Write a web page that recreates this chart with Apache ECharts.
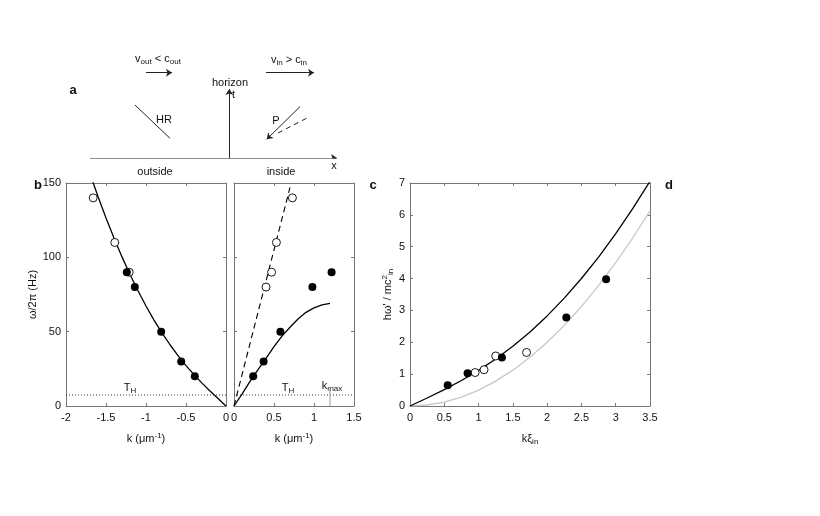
<!DOCTYPE html>
<html>
<head>
<meta charset="utf-8">
<script src="https://cdn.jsdelivr.net/npm/echarts@6/dist/echarts.min.js"></script>
<style>
  html, body { margin: 0; padding: 0; background: #fff; }
  #chart { width: 820px; height: 516px; }
</style>
</head>
<body>
<div id="chart"></div>
<script>
// panel b, outside (k < 0)
var outCurveK = [0, -0.1, -0.2, -0.3, -0.4, -0.5, -0.6, -0.7, -0.8, -0.9, -1.0, -1.1, -1.2, -1.3, -1.4, -1.5, -1.6, -1.7];
var outCurveW = [0, 5.0, 10.1, 15.4, 21.1, 27.2, 33.9, 41.2, 49.2, 57.8, 67.3, 77.5, 88.5, 100.3, 113.0, 126.5, 140.9, 156.2];
var outOpenK = [-1.66, -1.39, -1.21];
var outOpenW = [140, 110, 90];
var outFilledK = [-1.24, -1.14, -0.81, -0.56, -0.39];
var outFilledW = [90, 80, 50, 30, 20];

// panel b, inside (k > 0)
var inCurveK = [0, 0.1, 0.2, 0.3, 0.4, 0.5, 0.6, 0.7, 0.8, 0.9, 1.0, 1.1, 1.2];
var inCurveW = [0, 8, 16.5, 24.5, 32, 40, 47, 53, 58.5, 63, 66, 68, 69];
var inDashK = [0, 0.7];
var inDashW = [0, 147];
var inOpenK = [0.40, 0.47, 0.53, 0.73];
var inOpenW = [80, 90, 110, 140];
var inFilledK = [0.24, 0.37, 0.58, 0.98, 1.22];
var inFilledW = [20, 30, 50, 80, 90];
var tH = 7.4;
var kMax = 1.2;
var kMaxTop = 12;

// panel c
var cX = [0, 0.25, 0.5, 0.75, 1, 1.25, 1.5, 1.75, 2, 2.25, 2.5, 2.75, 3, 3.25, 3.5];
var cBlack = [0, 0.252, 0.515, 0.801, 1.118, 1.474, 1.875, 2.325, 2.828, 3.387, 4.002, 4.676, 5.408, 6.201, 7.055];
var cGray = [0, 0.031, 0.125, 0.281, 0.5, 0.781, 1.125, 1.531, 2, 2.531, 3.125, 3.781, 4.5, 5.281, 6.125];
var cFilledX = [0.55, 0.84, 1.34, 2.28, 2.86];
var cFilledY = [0.65, 1.03, 1.52, 2.78, 3.98];
var cOpenX = [0.95, 1.08, 1.25, 1.70];
var cOpenY = [1.05, 1.14, 1.57, 1.68];

// panel a sketch, segments [x1, y1, x2, y2] in sketch units
var arrowSegs = [
  [24, 0, 271, 0],        // x axis
  [163.3, 0, 163.3, 69],  // t axis
  [80, 85.3, 106, 85.3],  // v_out
  [200, 85.3, 248, 85.3], // v_in
  [234, 51.3, 200.7, 18.7] // P
];
var hrSeg = [69, 53, 104, 19.7];
var pDashSeg = [212, 25, 241, 40];

function pairs(xs, ys) {
  return xs.map(function (x, i) { return [x, ys[i]]; });
}

var axisCol = '#777';
var font = 'Liberation Sans, Arial, sans-serif';
var richName = {
  sup: { fontSize: 8, fontFamily: font, color: '#111', verticalAlign: 'top', lineHeight: 14 },
  sub: { fontSize: 8, fontFamily: font, color: '#111', verticalAlign: 'bottom', lineHeight: 14 }
};

function xAx(grid, min, max, step, pos, showLabel, name) {
  return {
    type: 'value', gridIndex: grid, min: min, max: max, interval: step, position: pos,
    axisLine: { show: true, onZero: false, lineStyle: { color: axisCol, width: 1 } },
    axisTick: { show: true, inside: true, length: 3, lineStyle: { color: axisCol } },
    axisLabel: { show: showLabel, color: '#111', fontSize: 11, fontFamily: font, margin: 6 },
    splitLine: { show: false },
    name: name || '', nameLocation: 'middle', nameGap: 26,
    nameTextStyle: { color: '#111', fontSize: 11, fontFamily: font, rich: richName }
  };
}
function yAx(grid, min, max, step, pos, showLabel, name, gap) {
  return {
    type: 'value', gridIndex: grid, min: min, max: max, interval: step, position: pos,
    axisLine: { show: true, onZero: false, lineStyle: { color: axisCol, width: 1 } },
    axisTick: { show: true, inside: true, length: 3, lineStyle: { color: axisCol } },
    axisLabel: { show: showLabel, color: '#111', fontSize: 11, fontFamily: font, margin: 5 },
    splitLine: { show: false },
    name: name || '', nameLocation: 'middle', nameGap: gap || 26,
    nameTextStyle: { color: '#111', fontSize: 11, fontFamily: font, rich: richName }
  };
}

function lineS(xi, yi, data, color, type, width) {
  return {
    type: 'line', xAxisIndex: xi, yAxisIndex: yi, data: data, showSymbol: false, symbol: 'none',
    lineStyle: { color: color, type: type || 'solid', width: width || 1.3 }, z: 2
  };
}
function dots(xi, yi, data, filled) {
  return {
    type: 'scatter', xAxisIndex: xi, yAxisIndex: yi, data: data, symbolSize: 8,
    itemStyle: { color: filled ? '#000' : '#fff', borderColor: '#000', borderWidth: filled ? 0 : 0.9, opacity: 1 },
    z: filled ? 4 : 3
  };
}

var chart = echarts.init(document.getElementById('chart'), null, { renderer: 'canvas' });

var label = function (t, x, y, size, bold, align) {
  return {
    type: 'text', x: x, y: y,
    style: {
      text: t, fill: '#111', fontSize: size || 11, fontFamily: font, fontWeight: bold ? 'bold' : 'normal',
      align: align || 'center', verticalAlign: 'middle',
      rich: {
        sub: { fontSize: 8, fontFamily: font, fill: '#111', verticalAlign: 'bottom', lineHeight: 14 }
      }
    }
  };
};

var option = {
  animation: false,
  backgroundColor: '#fff',
  grid: [
    { left: 66, top: 50, width: 288, height: 108 },
    { left: 66, top: 183, width: 160, height: 223 },
    { left: 234, top: 183, width: 120, height: 223 },
    { left: 410, top: 183, width: 240, height: 223 }
  ],
  xAxis: [
    { type: 'value', gridIndex: 0, min: 0, max: 288, show: false },
    xAx(1, -2, 0, 0.5, 'bottom', true, 'k (μm{sup|-1})'),
    xAx(1, -2, 0, 0.5, 'top', false),
    xAx(2, 0, 1.5, 0.5, 'bottom', true, 'k (μm{sup|-1})'),
    xAx(2, 0, 1.5, 0.5, 'top', false),
    xAx(3, 0, 3.5, 0.5, 'bottom', true, 'kξ{sub|in}'),
    xAx(3, 0, 3.5, 0.5, 'top', false)
  ],
  yAxis: [
    { type: 'value', gridIndex: 0, min: 0, max: 108, show: false },
    yAx(1, 0, 150, 50, 'left', true, 'ω/2π (Hz)', 24),
    yAx(1, 0, 150, 50, 'right', false),
    yAx(2, 0, 150, 50, 'left', false),
    yAx(2, 0, 150, 50, 'right', false),
    yAx(3, 0, 7, 1, 'left', true, "hω' / mc{sup|2}{sub|in}", 14),
    yAx(3, 0, 7, 1, 'right', false)
  ],
  series: [
    {
      type: 'lines', coordinateSystem: 'cartesian2d', xAxisIndex: 0, yAxisIndex: 0,
      symbol: ['none', 'arrow'], symbolSize: 6,
      lineStyle: { color: '#222', width: 1, opacity: 1 },
      data: arrowSegs.map(function (s) { return { coords: [[s[0], s[1]], [s[2], s[3]]] }; })
    },
    lineS(0, 0, [[hrSeg[0], hrSeg[1]], [hrSeg[2], hrSeg[3]]], '#222', 'solid', 1),
    lineS(0, 0, [[pDashSeg[0], pDashSeg[1]], [pDashSeg[2], pDashSeg[3]]], '#222', [5, 4], 1),

    lineS(1, 1, pairs(outCurveK, outCurveW), '#000'),
    lineS(1, 1, [[-2, tH], [0, tH]], '#333', [1, 2], 1),
    dots(1, 1, pairs(outOpenK, outOpenW), false),
    dots(1, 1, pairs(outFilledK, outFilledW), true),

    lineS(3, 3, pairs(inCurveK, inCurveW), '#000'),
    lineS(3, 3, pairs(inDashK, inDashW), '#000', [6, 4], 1.1),
    lineS(3, 3, [[0, tH], [1.5, tH]], '#333', [1, 2], 1),
    lineS(3, 3, [[kMax, 0], [kMax, kMaxTop]], '#999', 'solid', 1),
    dots(3, 3, pairs(inOpenK, inOpenW), false),
    dots(3, 3, pairs(inFilledK, inFilledW), true),

    lineS(5, 5, pairs(cX, cGray), '#c8c8c8'),
    lineS(5, 5, pairs(cX, cBlack), '#000'),
    dots(5, 5, pairs(cOpenX, cOpenY), false),
    dots(5, 5, pairs(cFilledX, cFilledY), true)
  ],
  graphic: [
    label('a', 73, 90, 13, true),
    label('b', 38, 185, 13, true),
    label('c', 373, 185, 13, true),
    label('d', 669, 185, 13, true),
    label('v{sub|out} < c{sub|out}', 158, 59, 11),
    label('v{sub|in} > c{sub|in}', 289, 60, 11),
    label('horizon', 230, 83, 11),
    label('t', 232, 95, 11, false, 'left'),
    label('x', 334, 166, 11),
    label('outside', 155, 172, 11),
    label('inside', 281, 172, 11),
    label('HR', 164, 120, 11),
    label('P', 276, 121, 11),
    label('T{sub|H}', 130, 388, 11),
    label('T{sub|H}', 288, 388, 11),
    label('k{sub|max}', 332, 386, 11)
  ]
};
chart.setOption(option);
</script>
</body>
</html>
